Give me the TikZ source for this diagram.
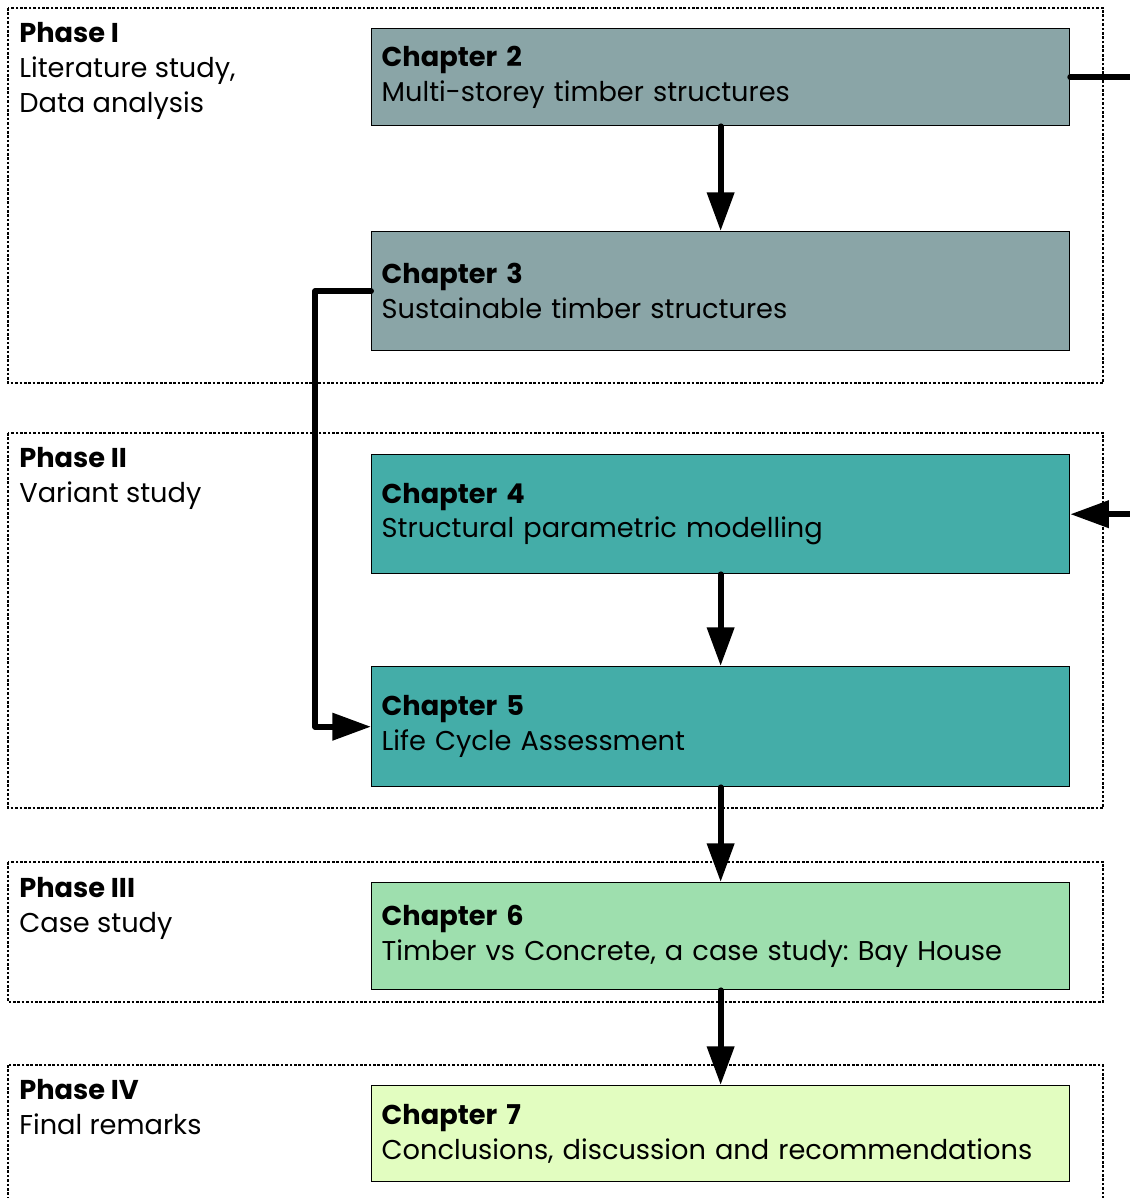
\documentclass[tikz,border=0pt]{standalone}
\usepackage{fontspec}
\setmainfont{Poppins}
\frenchspacing
\usetikzlibrary{arrows.meta}

\definecolor{phaseone}{HTML}{8AA5A7}
\definecolor{phasetwo}{HTML}{44ADA8}
\definecolor{phasethree}{HTML}{9EDFAE}
\definecolor{phasefour}{HTML}{E2FDC0}

\tikzset{
  phase/.style={draw, line width=0.6pt, dash pattern=on 1.5pt off 1pt},
  chapter/.style={draw, line width=0.8pt, anchor=north west, minimum width=13.96cm,
    text width=13.56cm, inner xsep=0.2cm, align=left, font=\fontsize{15.5}{19.8}\selectfont},
  phasetext/.style={anchor=north west, inner sep=0pt, align=left, font=\fontsize{15.5}{19.8}\selectfont},
  flow/.style={line width=3.4pt, line join=round, line cap=round, -{Triangle[length=22pt,width=15pt]}},
}

\begin{document}
\begin{tikzpicture}[x=0.02cm, y=-0.02cm]
\clip (0,0) rectangle (1130,1198);

% phases
\draw[phase] (8,8) rectangle (1103,383);
\draw[phase] (8,433) rectangle (1103,808);
\draw[phase] (8,862) rectangle (1103,1002);
\draw[phase] (8,1065) rectangle (1103,1230);

\node[phasetext] (p1) at (19,22) {\textbf{Phase I}\\Literature study,\\Data analysis};
\node[phasetext] (p2) at (19,447) {\textbf{Phase II}\\Variant study};
\node[phasetext] (p3) at (19,877) {\textbf{Phase III}\\Case study};
\node[phasetext] (p4) at (19,1079) {\textbf{Phase IV}\\Final remarks};

% chapters
\node[chapter, fill=phaseone, minimum height=1.94cm] (ch2) at (371,28)
  {\textbf{Chapter 2}\\Multi-storey timber structures};
\node[chapter, fill=phaseone, minimum height=2.38cm] (ch3) at (371,231)
  {\textbf{Chapter 3}\\Sustainable timber structures};
\node[chapter, fill=phasetwo, minimum height=2.38cm] (ch4) at (371,454)
  {\textbf{Chapter 4}\\Structural parametric modelling};
\node[chapter, fill=phasetwo, minimum height=2.4cm] (ch5) at (371,666)
  {\textbf{Chapter 5}\\Life Cycle Assessment};
\node[chapter, fill=phasethree, minimum height=2.14cm] (ch6) at (371,882)
  {\textbf{Chapter 6}\\Timber vs Concrete, a case study: Bay House};
\node[chapter, fill=phasefour, minimum height=1.92cm] (ch7) at (371,1085)
  {\textbf{Chapter 7}\\Conclusions, discussion and recommendations};

% connectors
\coordinate (rim) at (1132,0);

\draw[flow] (ch2.south) -- (ch3.north);
\draw[flow] (ch4.south) -- (ch5.north);
\draw[flow] (ch5.south) -- (ch6.north);
\draw[flow] (ch6.south) -- (ch7.north);
\draw[flow] (ch3.west) -- ++(-56,0) |- (ch5.west);
\draw[flow, -] (ch2.east) -- (ch2.east -| rim);
\draw[flow] (ch4.east -| rim) -- (ch4.east);
\end{tikzpicture}
\end{document}
